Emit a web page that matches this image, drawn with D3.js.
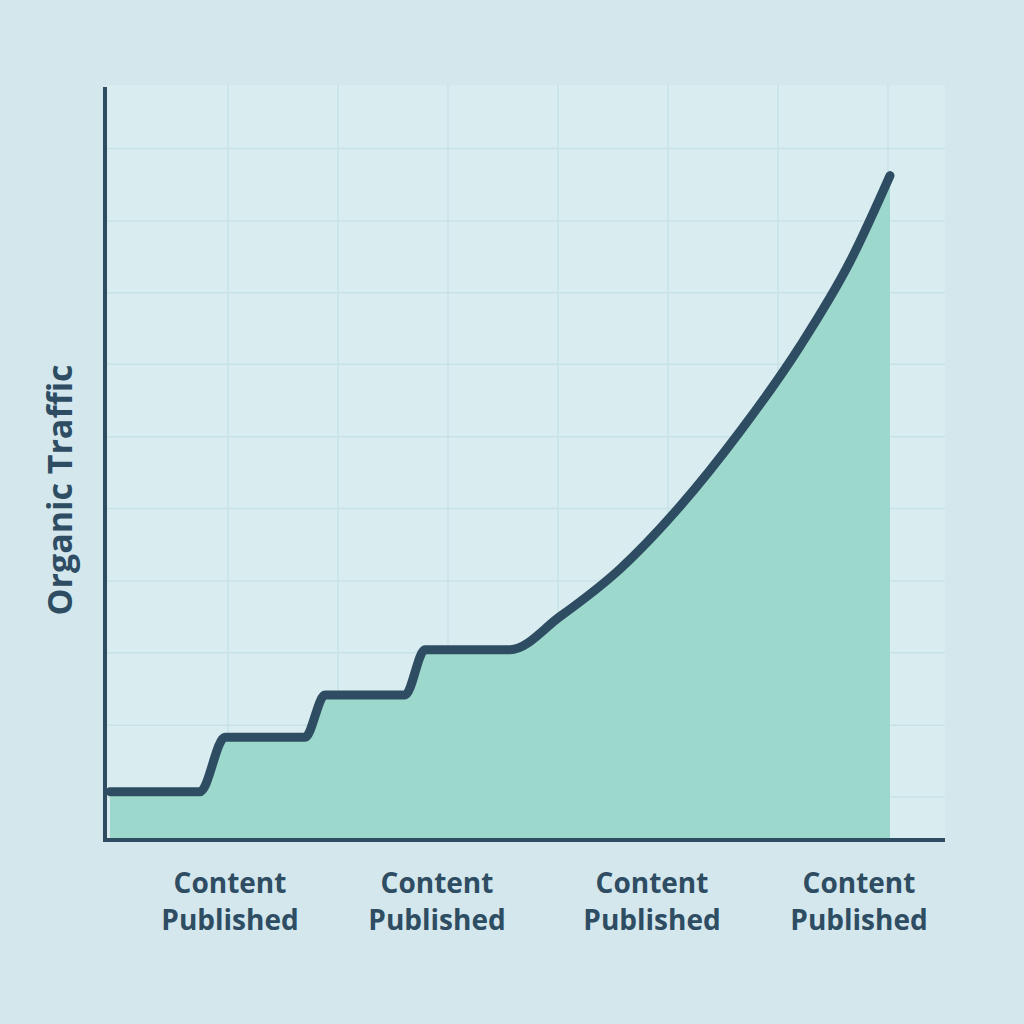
<!DOCTYPE html>
<html><head><meta charset="utf-8">
<script src="https://cdn.jsdelivr.net/npm/d3@7"></script>
<style>body{margin:0;background:#d3e7ed}</style>
</head><body>
<svg id="chart" width="1024" height="1024"></svg>
<script>
// traffic curve (x: time units, y: traffic units)
var trafficX = [0.5, 9.5, 12, 20, 22, 30, 32, 40.5, 45.5, 51.5, 57.5, 63.5, 69.5, 74.5, 78.5];
var trafficY = [6.4, 6.4, 13.6, 13.6, 19.2, 19.2, 25.2, 25.2, 29.6, 35.9, 44.2, 54.1, 65.4, 76.6, 88];
var gridX = [12.3, 23.3, 34.3, 45.3, 56.3, 67.3, 78.3];
var gridY = [5.7, 15.2, 24.8, 34.3, 43.9, 53.4, 63, 72.5, 82, 91.6];
var labelX = [12.5, 33.2, 54.7, 75.4];
var labelLines = ["Content", "Published"];

var ink = "#2e4d63";
var svg = d3.select("#chart");
var x = d3.scaleLinear().domain([0, 84]).range([105, 945]);
var y = d3.scaleLinear().domain([0, 100]).range([840, 85]);

svg.append("rect").attr("width", 1024).attr("height", 1024).attr("fill", "#d3e7ed");
svg.append("rect").attr("x", x(0)).attr("y", y(100)).attr("width", x(84) - x(0))
  .attr("height", y(0) - y(100)).attr("fill", "#d9edf1");

svg.selectAll(".gx").data(gridX).enter().append("line")
  .attr("x1", d => x(d)).attr("x2", d => x(d)).attr("y1", y(100)).attr("y2", y(0))
  .attr("stroke", "#c6e2e6").attr("stroke-width", 1.5);
svg.selectAll(".gy").data(gridY).enter().append("line")
  .attr("x1", x(0)).attr("x2", x(84)).attr("y1", d => y(d)).attr("y2", d => y(d))
  .attr("stroke", "#c6e2e6").attr("stroke-width", 1.5);

var pts = trafficX.map((d, i) => [d, trafficY[i]]);
var area = d3.area().x(d => x(d[0])).y0(y(0)).y1(d => y(d[1])).curve(d3.curveMonotoneX);
svg.append("path").datum(pts).attr("d", area).attr("fill", "#9dd8cc");
var line = d3.line().x(d => x(d[0])).y(d => y(d[1])).curve(d3.curveMonotoneX);
svg.append("path").datum(pts).attr("d", line).attr("fill", "none")
  .attr("stroke", ink).attr("stroke-width", 9).attr("stroke-linecap", "round").attr("stroke-linejoin", "round");

// axes
svg.append("line").attr("x1", x(0)).attr("x2", x(0)).attr("y1", y(100) + 2).attr("y2", y(0))
  .attr("stroke", ink).attr("stroke-width", 4);
svg.append("line").attr("x1", x(0) - 2).attr("x2", x(84)).attr("y1", y(0)).attr("y2", y(0))
  .attr("stroke", ink).attr("stroke-width", 4);

labelX.forEach(function(v) {
  labelLines.forEach(function(t, j) {
    svg.append("text").attr("x", x(v)).attr("y", 893 + j * 37).attr("text-anchor", "middle")
      .attr("font-family", "Open Sans, sans-serif").attr("font-weight", 700)
      .attr("font-size", 28).attr("fill", ink).text(t);
  });
});

svg.append("text").attr("transform", "translate(72,490) rotate(-90)").attr("text-anchor", "middle")
  .attr("font-family", "Open Sans, sans-serif").attr("font-weight", 700)
  .attr("font-size", 34).attr("fill", ink).text("Organic Traffic");
</script>
</body></html>
